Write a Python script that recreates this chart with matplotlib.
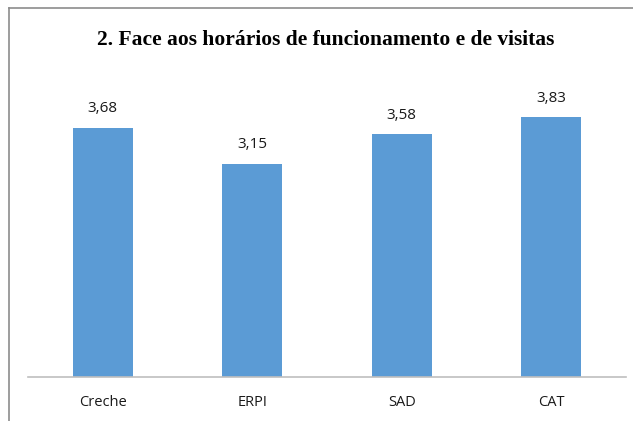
import matplotlib
matplotlib.use("Agg")
import matplotlib.pyplot as plt
from matplotlib.lines import Line2D

categories = ["Creche", "ERPI", "SAD", "CAT"]
values = [3.68, 3.15, 3.58, 3.83]
value_labels = ["3,68", "3,15", "3,58", "3,83"]
title = "2. Face aos horários de funcionamento e de visitas"

W, H = 633, 421
fig = plt.figure(figsize=(W / 100, H / 100), dpi=100)
fig.patch.set_facecolor("white")

# outer border (top and left visible)
fig.add_artist(Line2D([9 / W, 9 / W], [0, 1 - 8 / H], color="#8c8c8c", lw=1.2, transform=fig.transFigure))
fig.add_artist(Line2D([9 / W, 1], [1 - 8 / H, 1 - 8 / H], color="#8c8c8c", lw=1.2, transform=fig.transFigure))

ax = fig.add_axes([28 / W, 44 / H, 598 / W, 305 / H])
x = range(len(categories))
ax.bar(x, values, width=0.4, color="#5B9BD5")
ax.set_xlim(-0.5, len(categories) - 0.5)
ax.set_ylim(0, 4.5)
for s in ["top", "right", "left"]:
    ax.spines[s].set_visible(False)
ax.spines["bottom"].set_color("#bfbfbf")
ax.spines["bottom"].set_linewidth(1.2)
ax.set_yticks([])
ax.set_xticks(list(x))
ax.set_xticklabels(categories, fontsize=10.5, family="Open Sans", color="#1a1a1a")
ax.tick_params(axis="x", length=0, pad=13)
for i, (v, lab) in enumerate(zip(values, value_labels)):
    ax.annotate(lab, (i, v), xytext=(0, 8), textcoords="offset points", ha="center", va="bottom",
                fontsize=11, family="Open Sans", color="#1a1a1a")

fig.text(326 / W, 1 - 40 / H, title, ha="center", va="center", fontsize=15.5, fontweight="bold",
         family="Liberation Serif")

fig.savefig("out.png", dpi=100)
